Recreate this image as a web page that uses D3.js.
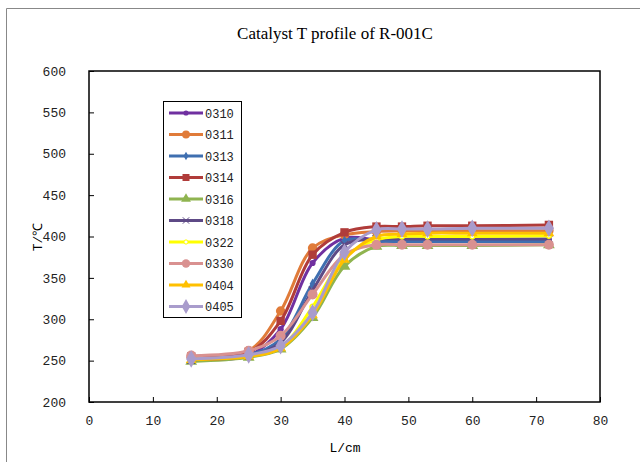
<!DOCTYPE html>
<html>
<head>
<meta charset="utf-8">
<script src="https://cdn.jsdelivr.net/npm/d3@7"></script>
<style>
  body { margin: 0; background: #fff; }
  svg { display: block; }
</style>
</head>
<body>
<svg id="chart" width="640" height="462"></svg>
<script>
// positions along the bed (cm)
const positions = [16, 25, 30, 35, 40, 45, 49, 53, 60, 72];

// temperature readings per run
const s0310 = [252, 256, 288, 368, 398, 396, 396, 396, 396, 396];
const s0311 = [254, 262, 310, 386, 402, 406, 407, 407, 407, 407];
const s0313 = [252, 257, 276, 343, 395, 394, 394, 394, 394, 394];
const s0314 = [255, 260, 298, 378, 405, 412, 412, 413, 413, 414];
const s0316 = [249, 254, 264, 302, 364, 388, 389, 389, 389, 390];
const s0318 = [251, 256, 272, 335, 390, 397, 397, 397, 397, 397];
const s0322 = [252, 256, 266, 315, 375, 396, 400, 400, 400, 401];
const s0330 = [256, 262, 280, 330, 378, 390, 390, 390, 390, 390];
const s0404 = [251, 255, 265, 305, 372, 400, 403, 404, 404, 404];
const s0405 = [252, 257, 268, 308, 381, 408, 409, 409, 410, 410];

const seriesNames = ["0310", "0311", "0313", "0314", "0316", "0318", "0322", "0330", "0404", "0405"];
const seriesValues = [s0310, s0311, s0313, s0314, s0316, s0318, s0322, s0330, s0404, s0405];
const seriesColors = ["#7030a0", "#e07b39", "#3f6fb0", "#b03c3a", "#8fb450", "#5e4a86", "#ffff00", "#d99190", "#ffc000", "#a99ccc"];
const seriesMarkers = ["circle", "circle", "diamond", "square", "triangle", "cross", "hollow", "circle", "triangle", "diamond"];
const markerSizes = [30, 70, 30, 70, 60, 40, 20, 80, 50, 90];

const xTicks = [0, 10, 20, 30, 40, 50, 60, 70, 80];
const yTicks = [200, 250, 300, 350, 400, 450, 500, 550, 600];

const svg = d3.select("#chart");
const margin = {left: 89, top: 71, right: 600, bottom: 402};

// outer chart frame (cropped)
svg.append("path")
  .attr("d", "M6.5,462 L6.5,8.5 L640,8.5")
  .attr("fill", "none")
  .attr("stroke", "#888")
  .attr("stroke-width", 1);

const x = d3.scaleLinear().domain([0, 80]).range([margin.left, margin.right]);
const y = d3.scaleLinear().domain([200, 600]).range([margin.bottom, margin.top]);

// plot box
svg.append("rect")
  .attr("x", margin.left).attr("y", margin.top)
  .attr("width", margin.right - margin.left)
  .attr("height", margin.bottom - margin.top)
  .attr("fill", "none")
  .attr("stroke", "#000")
  .attr("stroke-width", 1.5);

const tickFont = "'Liberation Mono', monospace";

// X axis (ticks inward)
const gx = svg.append("g")
  .attr("transform", `translate(0,${margin.bottom})`)
  .call(d3.axisBottom(x).tickValues(xTicks).tickSizeInner(-5).tickSizeOuter(0).tickPadding(14));
gx.select(".domain").remove();
gx.selectAll("line").attr("stroke", "#000");
gx.selectAll("text").style("font-family", tickFont).style("font-size", "13px").attr("fill", "#222");

// Y axis
const gy = svg.append("g")
  .attr("transform", `translate(${margin.left},0)`)
  .call(d3.axisLeft(y).tickValues(yTicks).tickSizeInner(-5).tickSizeOuter(0).tickPadding(23));
gy.select(".domain").remove();
gy.selectAll("line").attr("stroke", "#000");
gy.selectAll("text").style("font-family", tickFont).style("font-size", "13px").attr("fill", "#222");

// title and axis labels
svg.append("text")
  .attr("x", 335).attr("y", 39)
  .attr("text-anchor", "middle")
  .style("font-family", "'Liberation Serif', serif")
  .style("font-size", "17px")
  .text("Catalyst T profile of R-001C");

svg.append("text")
  .attr("x", 345).attr("y", 452)
  .attr("text-anchor", "middle")
  .style("font-family", tickFont)
  .style("font-size", "13px")
  .text("L/cm");

svg.append("text")
  .attr("transform", "translate(42,237) rotate(-90)")
  .attr("text-anchor", "middle")
  .style("font-family", tickFont)
  .style("font-size", "13px")
  .text("T/℃");

function symbolFor(kind) {
  if (kind === "square") return d3.symbolSquare;
  if (kind === "triangle") return d3.symbolTriangle;
  if (kind === "diamond") return d3.symbolDiamond;
  if (kind === "cross") return d3.symbolTimes;
  return d3.symbolCircle;
}

const line = d3.line()
  .x((d, i) => x(positions[i]))
  .y(d => y(d))
  .curve(d3.curveCatmullRom.alpha(0.5));

const plot = svg.append("g");

seriesValues.forEach(function(vals, k) {
  const col = seriesColors[k];
  plot.append("path")
    .datum(vals)
    .attr("d", line)
    .attr("fill", "none")
    .attr("stroke", col)
    .attr("stroke-width", 3);

  const sym = d3.symbol().type(symbolFor(seriesMarkers[k])).size(markerSizes[k]);
  plot.selectAll(null)
    .data(vals)
    .enter()
    .append("path")
      .attr("transform", (d, i) => `translate(${x(positions[i])},${y(d)})`)
      .attr("d", sym)
      .attr("fill", seriesMarkers[k] === "hollow" ? "#fff" : col)
      .attr("stroke", col)
      .attr("stroke-width", seriesMarkers[k] === "cross" || seriesMarkers[k] === "hollow" ? 1.5 : 0);
});

// legend
const legend = svg.append("g");
legend.append("rect")
  .attr("x", 163.5).attr("y", 101.5)
  .attr("width", 78).attr("height", 216)
  .attr("fill", "#fff")
  .attr("stroke", "#000")
  .attr("stroke-width", 1);

seriesNames.forEach(function(name, k) {
  const ly = 113 + k * 21.5;
  const col = seriesColors[k];
  legend.append("line")
    .attr("x1", 169).attr("x2", 203)
    .attr("y1", ly).attr("y2", ly)
    .attr("stroke", col)
    .attr("stroke-width", 3);
  const sym = d3.symbol().type(symbolFor(seriesMarkers[k])).size(markerSizes[k] * 0.7);
  legend.append("path")
    .attr("transform", `translate(186,${ly})`)
    .attr("d", sym)
    .attr("fill", seriesMarkers[k] === "hollow" ? "#fff" : col)
    .attr("stroke", col)
    .attr("stroke-width", seriesMarkers[k] === "cross" || seriesMarkers[k] === "hollow" ? 1 : 0);
  legend.append("text")
    .attr("x", 205).attr("y", ly + 4.5)
    .style("font-family", tickFont)
    .style("font-size", "12px")
    .attr("fill", "#222")
    .text(name);
});
</script>
</body>
</html>
